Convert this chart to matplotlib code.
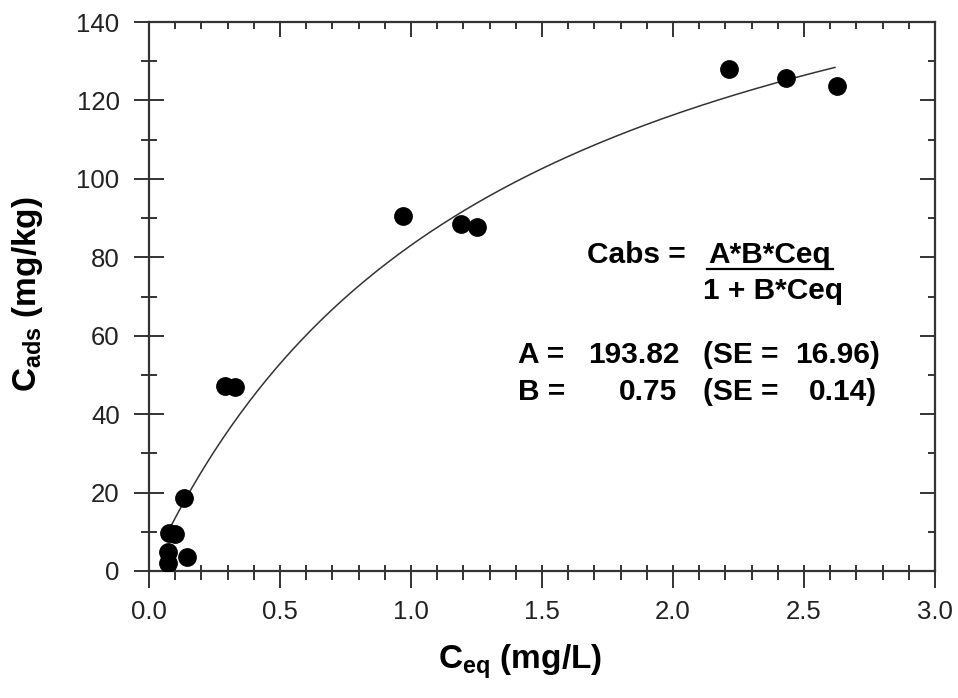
import numpy as np
import matplotlib
matplotlib.use("Agg")
import matplotlib.pyplot as plt
from matplotlib.lines import Line2D

plt.rcParams['font.family'] = ['Liberation Sans', 'DejaVu Sans']
plt.rcParams['mathtext.fontset'] = 'custom'
plt.rcParams['mathtext.rm'] = 'Liberation Sans'
plt.rcParams['mathtext.bf'] = 'Liberation Sans:bold'

ceq = [0.074, 0.077, 0.099, 0.074, 0.135, 0.144, 0.290, 0.328,
       0.968, 1.191, 1.253, 2.215, 2.431, 2.625]
cads = [2.0, 9.6, 9.4, 4.9, 18.5, 3.6, 47.2, 46.8,
        90.5, 88.4, 87.6, 128.0, 125.8, 123.8]

# fitted Langmuir parameters shown on the chart
A = 193.82
B = 0.75
fit_start, fit_end = 0.087, 2.618

xticks = [0.0, 0.5, 1.0, 1.5, 2.0, 2.5, 3.0]
yticks = [0, 20, 40, 60, 80, 100, 120, 140]
xminor = np.arange(0, 3.01, 0.1)
yminor = np.arange(0, 141, 10)

fig = plt.figure(figsize=(9.58, 6.98), dpi=100)
ax = fig.add_axes([149 / 958, 1 - 571 / 698, 786 / 958, 549 / 698])

xf = np.linspace(fit_start, fit_end, 300)
ax.plot(xf, A * B * xf / (1 + B * xf), color='#333333', lw=1.1, zorder=2)
ax.plot(ceq, cads, 'o', color='black', ms=12.5, zorder=3)

ax.set_xlim(0, 3.0)
ax.set_ylim(0, 140)
ax.set_xticks(xticks)
ax.set_xticklabels(['%.1f' % t for t in xticks])
ax.set_yticks(yticks)
ax.set_xticks(xminor, minor=True)
ax.set_yticks(yminor, minor=True)

for s in ax.spines.values():
    s.set_linewidth(1.6)
    s.set_color('#333333')

ax.tick_params(axis='both', which='both', color='#333333', width=1.4)
ax.tick_params(axis='x', which='major', direction='out', length=12.2, pad=9,
               labelsize=18.5, labelcolor='#222222')
ax.tick_params(axis='x', which='minor', direction='out', length=6.5)
ax.tick_params(axis='y', which='major', direction='inout', length=22.3, pad=10,
               labelsize=18.5, labelcolor='#222222')
ax.tick_params(axis='y', which='minor', direction='inout', length=11.5)

# inward ticks on top and right
ax2 = ax.secondary_xaxis('top')
ax2.set_xticks(xticks)
ax2.set_xticks(xminor, minor=True)
ax2.tick_params(which='major', direction='in', length=10.8, width=1.4, color='#333333', labeltop=False)
ax2.tick_params(which='minor', direction='in', length=5, width=1.4, color='#333333')
ax2.spines['top'].set_visible(False)
ay2 = ax.secondary_yaxis('right')
ay2.set_yticks(yticks)
ay2.set_yticks(yminor, minor=True)
ay2.tick_params(which='major', direction='in', length=10.8, width=1.4, color='#333333', labelright=False)
ay2.tick_params(which='minor', direction='in', length=5, width=1.4, color='#333333')
ay2.spines['right'].set_visible(False)
# short inward ticks on the bottom axis
ab = ax.secondary_xaxis('bottom')
ab.set_xticks(xticks)
ab.set_xticks(xminor, minor=True)
ab.tick_params(which='both', direction='in', length=4.3, width=1.4, color='#333333', labelbottom=False)
ab.spines['bottom'].set_visible(False)

ax.set_xlabel(r'$\mathbf{C_{eq}}$ (mg/L)', fontsize=24, fontweight='bold')
ax.set_ylabel(r'$\mathbf{C_{ads}}$ (mg/kg)', fontsize=24, fontweight='bold')
ax.xaxis.set_label_coords(0.472, -0.13)
ax.yaxis.set_label_coords(-0.132, 0.505)

tk = dict(transform=ax.transAxes, fontsize=21.5, fontweight='bold', color='black')
ax.text(0.557, 0.561, 'Cabs =', ha='left', va='baseline', **tk)
ax.text(0.790, 0.561, 'A*B*Ceq', ha='center', va='baseline', **tk)
ax.add_line(Line2D([0.710, 0.870], [0.551, 0.551], transform=ax.transAxes, color='black', lw=1.6))
ax.text(0.7945, 0.4954, '1 + B*Ceq', ha='center', va='baseline', **tk)

ax.text(0.4695, 0.379, 'A =', ha='left', va='baseline', **tk)
ax.text(0.6756, 0.379, '%.2f' % A, ha='right', va='baseline', **tk)
ax.text(0.7048, 0.379, '(SE =', ha='left', va='baseline', **tk)
ax.text(0.930, 0.379, '16.96)', ha='right', va='baseline', **tk)

ax.text(0.4695, 0.3115, 'B =', ha='left', va='baseline', **tk)
ax.text(0.6718, 0.3115, '%.2f' % B, ha='right', va='baseline', **tk)
ax.text(0.7048, 0.3115, '(SE =', ha='left', va='baseline', **tk)
ax.text(0.926, 0.3115, '0.14)', ha='right', va='baseline', **tk)

fig.savefig('out.png', dpi=100)
